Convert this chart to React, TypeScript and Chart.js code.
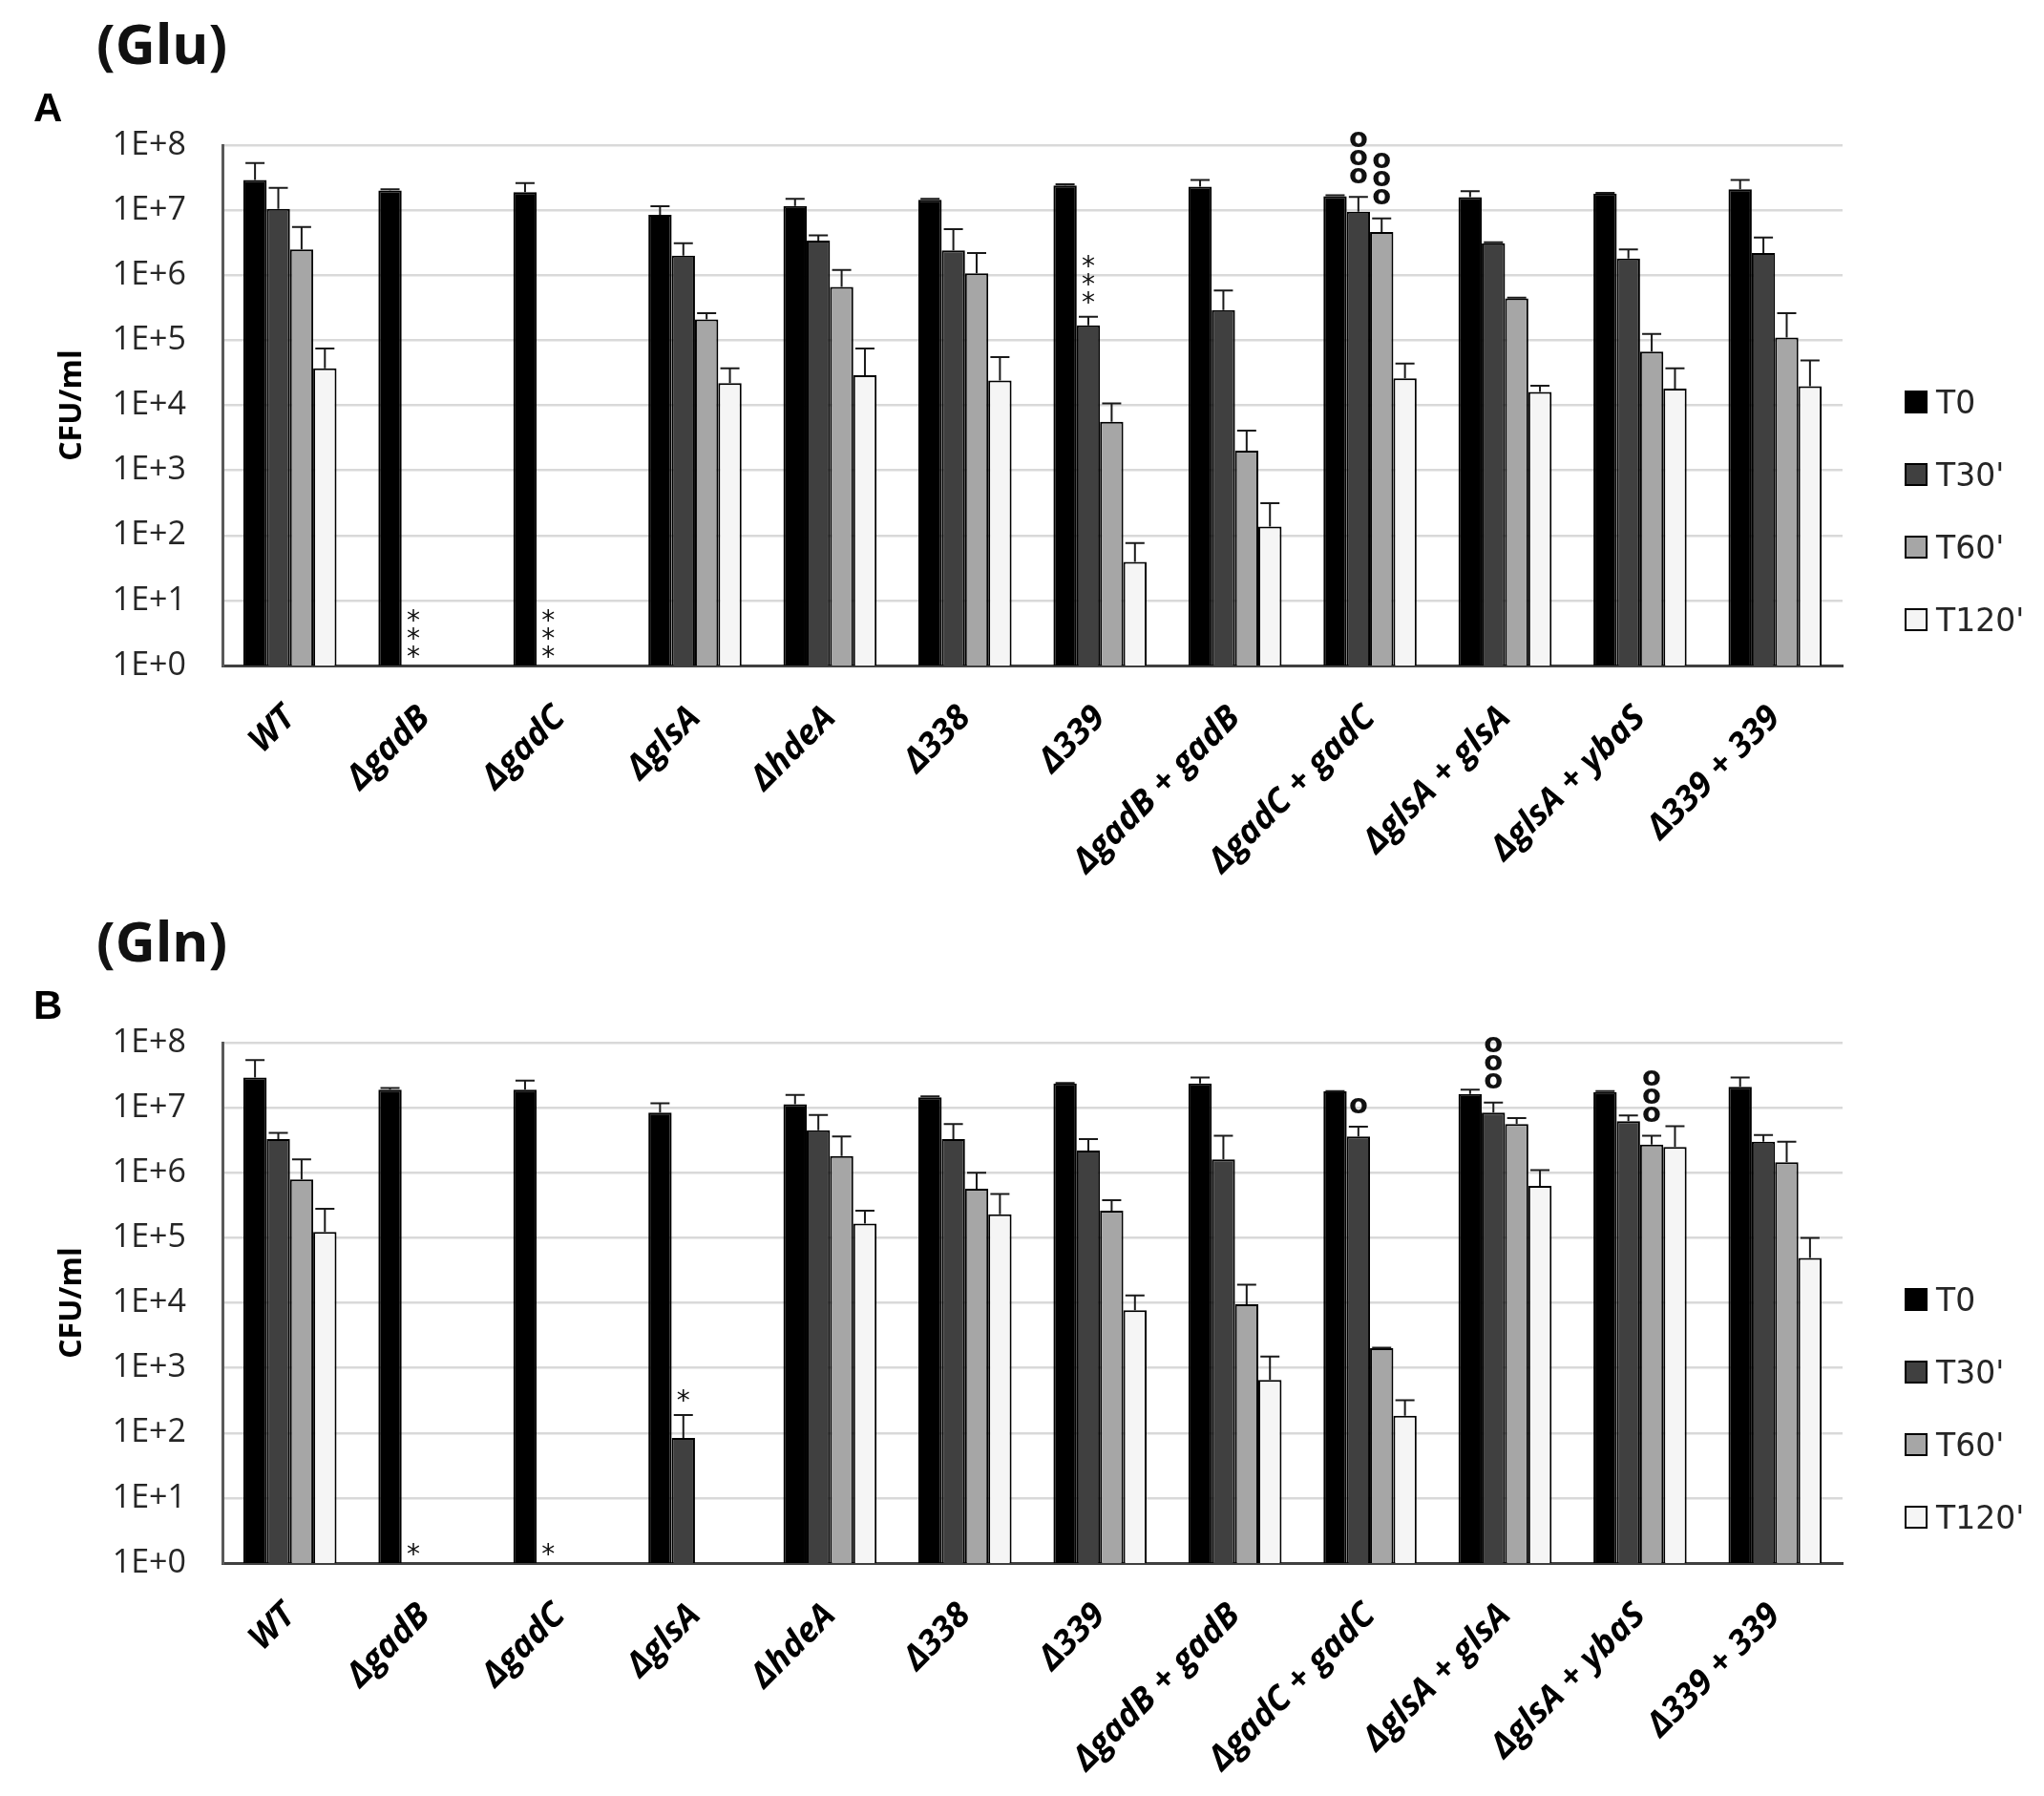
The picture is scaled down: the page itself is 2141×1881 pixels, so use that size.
import { useEffect, useRef } from "react"
import { Chart, registerables } from "chart.js"

Chart.register(...registerables)

const categories = [
  "WT",
  "ΔgadB",
  "ΔgadC",
  "ΔglsA",
  "ΔhdeA",
  "Δ338",
  "Δ339",
  "ΔgadB + gadB",
  "ΔgadC + gadC",
  "ΔglsA + glsA",
  "ΔglsA + ybaS",
  "Δ339 + 339",
]
const seriesLabels = ["T0", "T30'", "T60'", "T120'"]
const yTickValues = [1, 10, 100, 1e3, 1e4, 1e5, 1e6, 1e7, 1e8]
const yTickLabels = ["1E+0", "1E+1", "1E+2", "1E+3", "1E+4", "1E+5", "1E+6", "1E+7", "1E+8"]

// (Glu) panel A - bar heights and the top of each error bar
const gluT0 = [2.9e7, 2.0e7, 1.9e7, 8.5e6, 1.16e7, 1.45e7, 2.4e7, 2.3e7, 1.64e7, 1.58e7, 1.8e7, 2.1e7]
const gluT30 = [1.05e7, null, null, 2.0e6, 3.4e6, 2.4e6, 1.7e5, 2.9e5, 9.5e6, 3.1e6, 1.8e6, 2.2e6]
const gluT60 = [2.5e6, null, null, 2.1e5, 6.6e5, 1.07e6, 5.6e3, 2.0e3, 4.6e6, 4.4e5, 6.7e4, 1.1e5]
const gluT120 = [3.7e4, null, null, 2.2e4, 2.9e4, 2.4e4, 39, 137, 2.6e4, 1.6e4, 1.8e4, 1.96e4]
const gluT0Err = [5.3e7, 2.1e7, 2.6e7, 1.15e7, 1.5e7, 1.5e7, 2.5e7, 2.9e7, 1.7e7, 1.95e7, 1.85e7, 2.9e7]
const gluT30Err = [2.2e7, null, null, 3.1e6, 4.1e6, 5.1e6, 2.3e5, 5.8e5, 1.6e7, 3.2e6, 2.5e6, 3.8e6]
const gluT60Err = [5.5e6, null, null, 2.6e5, 1.2e6, 2.2e6, 1.07e4, 4.1e3, 7.5e6, 4.5e5, 1.25e5, 2.6e5]
const gluT120Err = [7.5e4, null, null, 3.7e4, 7.5e4, 5.5e4, 76, 312, 4.4e4, 2.0e4, 3.7e4, 4.9e4]

// (Gln) panel B
const glnT0 = [2.9e7, 1.9e7, 1.9e7, 8.4e6, 1.13e7, 1.45e7, 2.35e7, 2.35e7, 1.78e7, 1.62e7, 1.74e7, 2.1e7]
const glnT30 = [3.3e6, null, null, 84, 4.5e6, 3.3e6, 2.2e6, 1.6e6, 3.6e6, 8.4e6, 6.2e6, 3.0e6]
const glnT60 = [7.9e5, null, null, null, 1.8e6, 5.7e5, 2.6e5, 9.5e3, 2.0e3, 5.6e6, 2.7e6, 1.45e6]
const glnT120 = [1.23e5, null, null, null, 1.65e5, 2.3e5, 7.7e3, 650, 184, 6.3e5, 2.5e6, 4.9e4]
const glnT0Err = [5.4e7, 2.0e7, 2.6e7, 1.17e7, 1.57e7, 1.5e7, 2.4e7, 2.9e7, 1.8e7, 1.9e7, 1.8e7, 2.9e7]
const glnT30Err = [4.1e6, null, null, 189, 7.7e6, 5.6e6, 3.3e6, 3.7e6, 5.1e6, 1.2e7, 7.6e6, 3.8e6]
const glnT60Err = [1.6e6, null, null, null, 3.6e6, 1.0e6, 3.8e5, 1.9e4, 2.05e3, 6.9e6, 3.7e6, 3.0e6]
const glnT120Err = [2.8e5, null, null, null, 2.6e5, 4.7e5, 1.3e4, 1.5e3, 318, 1.1e6, 5.2e6, 1.0e5]

// significance marks: category index, series index, symbol, how many stacked
const gluMarks = [
  { group: 1, series: 1, symbol: "*", count: 3 },
  { group: 2, series: 1, symbol: "*", count: 3 },
  { group: 6, series: 1, symbol: "*", count: 3 },
  { group: 8, series: 1, symbol: "o", count: 3 },
  { group: 8, series: 2, symbol: "o", count: 3 },
]
const glnMarks = [
  { group: 1, series: 1, symbol: "*", count: 1 },
  { group: 2, series: 1, symbol: "*", count: 1 },
  { group: 3, series: 1, symbol: "*", count: 1 },
  { group: 8, series: 1, symbol: "o", count: 1 },
  { group: 9, series: 1, symbol: "o", count: 3 },
  { group: 10, series: 2, symbol: "o", count: 3 },
]

const seriesFill = ["#000000", "#404040", "#a6a6a6", "#f5f5f5"]

type Mark = { group: number; series: number; symbol: string; count: number }
type Series = (number | null)[]

const errorBarPlugin = {
  id: "errorBars",
  afterDatasetsDraw(chart: any, _args: any, opts: any) {
    const { ctx } = chart
    const yScale = chart.scales.y
    ctx.save()
    ctx.strokeStyle = "#1a1a1a"
    ctx.lineWidth = 2
    opts.tops.forEach((tops: Series, ds: number) => {
      const meta = chart.getDatasetMeta(ds)
      tops.forEach((top, i) => {
        const value = chart.data.datasets[ds].data[i]
        if (top == null || value == null) return
        const bar = meta.data[i]
        const yTop = yScale.getPixelForValue(top)
        ctx.beginPath()
        ctx.moveTo(bar.x, bar.y)
        ctx.lineTo(bar.x, yTop)
        ctx.moveTo(bar.x - 10, yTop)
        ctx.lineTo(bar.x + 10, yTop)
        ctx.stroke()
      })
    })

    // stacked * and o marks
    const xScale = chart.scales.x
    opts.marks.forEach((m: Mark) => {
      const meta = chart.getDatasetMeta(m.series)
      const shift = meta.data[0].x - xScale.getPixelForValue(0)
      const x = xScale.getPixelForValue(m.group) + shift
      const top = opts.tops[m.series][m.group]
      let y = top == null ? yScale.bottom - 14 : yScale.getPixelForValue(top) - 20
      ctx.fillStyle = "#111"
      ctx.textAlign = "center"
      ctx.textBaseline = "middle"
      ctx.font = m.symbol === "o" ? "bold 29px 'DejaVu Sans'" : "28px 'DejaVu Sans'"
      for (let k = 0; k < m.count; k++) {
        ctx.fillText(m.symbol, x, m.symbol === "*" ? y + 7 : y - 2)
        y -= 19
      }
    })
    ctx.restore()
  },
}

interface PanelProps {
  top: number
  title: string
  letter: string
  values: Series[]
  errors: Series[]
  marks: Mark[]
}

function Panel({ top, title, letter, values, errors, marks }: PanelProps) {
  const canvasRef = useRef<HTMLCanvasElement>(null)

  useEffect(() => {
    if (!canvasRef.current) return
    const chart = new Chart(canvasRef.current, {
      type: "bar",
      data: {
        labels: categories,
        datasets: values.map((data, i) => ({
          label: seriesLabels[i],
          data,
          backgroundColor: seriesFill[i],
          borderColor: "#000",
          borderWidth: 2,
          categoryPercentage: 0.69,
          barPercentage: 1,
        })),
      },
      options: {
        animation: false,
        responsive: false,
        devicePixelRatio: 1,
        layout: { padding: { top: 152, right: 211, left: 0, bottom: 0 } },
        plugins: {
          legend: { display: false },
          tooltip: { enabled: false },
          errorBars: { tops: errors, marks },
        } as any,
        scales: {
          x: {
            afterFit: (s: any) => {
              s.height = 243
            },
            ticks: {
              font: { family: "Open Sans", size: 36, style: "italic", weight: "bold" },
              color: "#000",
              minRotation: 45,
              maxRotation: 45,
              autoSkip: false,
              padding: 34,
            },
            grid: { display: false, drawTicks: false },
            border: { color: "#404040", width: 3 },
          },
          y: {
            type: "logarithmic",
            min: 1,
            max: 1e8,
            afterBuildTicks: (s: any) => {
              s.ticks = yTickValues.map((v) => ({ value: v }))
            },
            afterFit: (s: any) => {
              s.width = 233
            },
            ticks: {
              callback: (_v: any, i: number) => yTickLabels[i],
              font: { family: "Open Sans", size: 34 },
              color: "#262626",
              padding: 38,
            },
            grid: { color: "#d9d9d9", lineWidth: 2.5, drawTicks: false },
            border: { color: "#595959", width: 3 },
            title: {
              display: true,
              text: "CFU/ml",
              font: { family: "Open Sans", size: 32, weight: "bold" },
              color: "#000",
              padding: { top: 57, bottom: 0 },
            },
          },
        },
      },
      plugins: [errorBarPlugin],
    } as any)
    return () => chart.destroy()
  }, [values, errors, marks])

  return (
    <div style={{ position: "absolute", left: 0, top, width: 2141, height: 940 }}>
      <canvas ref={canvasRef} width={2141} height={940} style={{ width: 2141, height: 940 }} />
      <div
        style={{
          position: "absolute",
          left: 101,
          top: 16,
          fontFamily: "'Open Sans'",
          fontWeight: 700,
          fontSize: 58,
          lineHeight: 1,
          color: "#111",
        }}
      >
        {title}
      </div>
      <div
        style={{
          position: "absolute",
          left: 35,
          top: 92,
          fontFamily: "'Liberation Sans'",
          fontWeight: 700,
          fontSize: 42,
          lineHeight: 1,
          color: "#000",
        }}
      >
        {letter}
      </div>
      {seriesLabels.map((label, i) => (
        <div
          key={label}
          style={{
            position: "absolute",
            left: 1995,
            top: 421 + i * 76 - 20,
            height: 40,
            display: "flex",
            alignItems: "center",
            fontFamily: "'DejaVu Sans'",
            fontSize: 33,
            color: "#262626",
          }}
        >
          <span
            style={{
              display: "inline-block",
              width: 20,
              height: 20,
              border: "2px solid #000",
              background: seriesFill[i],
              marginRight: 9,
            }}
          />
          {label}
        </div>
      ))}
    </div>
  )
}

const gluValues = [gluT0, gluT30, gluT60, gluT120]
const gluErrors = [gluT0Err, gluT30Err, gluT60Err, gluT120Err]
const glnValues = [glnT0, glnT30, glnT60, glnT120]
const glnErrors = [glnT0Err, glnT30Err, glnT60Err, glnT120Err]

export default function App() {
  return (
    <div style={{ position: "absolute", left: 0, top: 0, width: 2141, height: 1881, background: "#fff" }}>
      <Panel top={0} title="(Glu)" letter="A" values={gluValues} errors={gluErrors} marks={gluMarks} />
      <Panel top={940} title="(Gln)" letter="B" values={glnValues} errors={glnErrors} marks={glnMarks} />
    </div>
  )
}
